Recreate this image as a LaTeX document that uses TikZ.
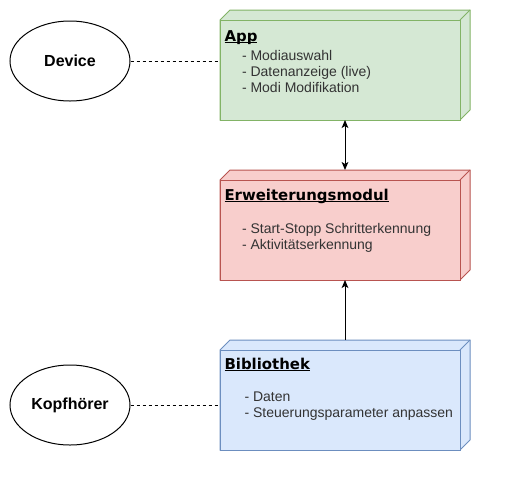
\documentclass[tikz,border=0pt]{standalone}
\usepackage{fontspec}
\setmainfont{Liberation Sans}
\newfontfamily\titlefont{DejaVu Sans}
\usetikzlibrary{shapes.geometric,arrows.meta}
\definecolor{appfill}{HTML}{D5E8D4}
\definecolor{appline}{HTML}{82B366}
\definecolor{erwfill}{HTML}{F8CECC}
\definecolor{erwline}{HTML}{B85450}
\definecolor{bibfill}{HTML}{DAE8FC}
\definecolor{bibline}{HTML}{6C8EBF}
\newcommand{\titleul}[1]{\setbox0\hbox{#1}\rlap{\rule[-1.5pt]{\wd0}{0.75pt}}\box0}
\tikzset{
	front/.style={rectangle,minimum width=180pt,minimum height=75pt,inner sep=0pt,outer sep=0pt},
	title/.style={anchor=base west,inner sep=0pt,font=\titlefont\bfseries\fontsize{11.2pt}{13pt}\selectfont},
	item/.style={anchor=base west,inner sep=0pt,text=black!80,font=\fontsize{10.5pt}{12pt}\selectfont},
	thing/.style={ellipse,draw,minimum width=90pt,minimum height=60pt,inner sep=0pt,font=\bfseries\fontsize{12pt}{14pt}\selectfont},
	link/.style={dash pattern=on 2.25pt off 2.25pt,shorten >=1.5pt}
}
\begin{document}
\begin{tikzpicture}[x=0.75pt,y=-0.75pt,line width=0.75pt,>={Stealth[length=6pt,width=5pt,inset=1.5pt]}]
	\useasboundingbox (0,0) rectangle (514,501);
	% components
	\foreach \n/\y/\f/\d in {app/20/appfill/appline,erw/180/erwfill/erwline,bib/350/bibfill/bibline}{
		\draw[draw=\d,fill=\f] (220,\y) -- (230,\y-10) -- (470,\y-10) -- (470,\y+90) -- (460,\y+100) -- (220,\y+100) -- cycle;
		\node[front,draw=\d,fill=\f] (\n) at (340,\y+50) {};
		\draw[\d] (\n.north east) -- ++(10,-10);
		\coordinate (\n-top) at (345,\y-10);
		\coordinate (\n-bot) at (345,\y+100);
		}
	% texts
	\node[title] (app-title) at (224,41) {\titleul{App}};
	\foreach \t [count=\i] in {Modiauswahl,{Datenanzeige (live)},Modi Modifikation}
		\node[item] (app-\i) at (241.5,44+16*\i) {- \t};
	\node[title] (erw-title) at (224,200) {\titleul{Erweiterungsmodul}};
	\foreach \t [count=\i] in {Start-Stopp Schritterkennung,Aktivitätserkennung}
		\node[item] (erw-\i) at (241.5,217+16*\i) {- \t};
	\node[title] (bib-title) at (224,369) {\titleul{Bibliothek}};
	\foreach \t [count=\i] in {Daten,Steuerungsparameter anpassen}
		\node[item] (bib-\i) at (244,385+16*\i) {- \t};
	% devices
	\node[thing] (dev) at (70,61) {Device};
	\node[thing] (kopf) at (70,405) {Kopfhörer};
	\draw[link] (dev) -- (dev -| app.west);
	\draw[link] (kopf) -- (kopf -| bib.west);
	% flow
	\draw[<->] (app-bot) -- (erw-top);
	\draw[->] (bib-top) -- (erw-bot);
\end{tikzpicture}
\end{document}
